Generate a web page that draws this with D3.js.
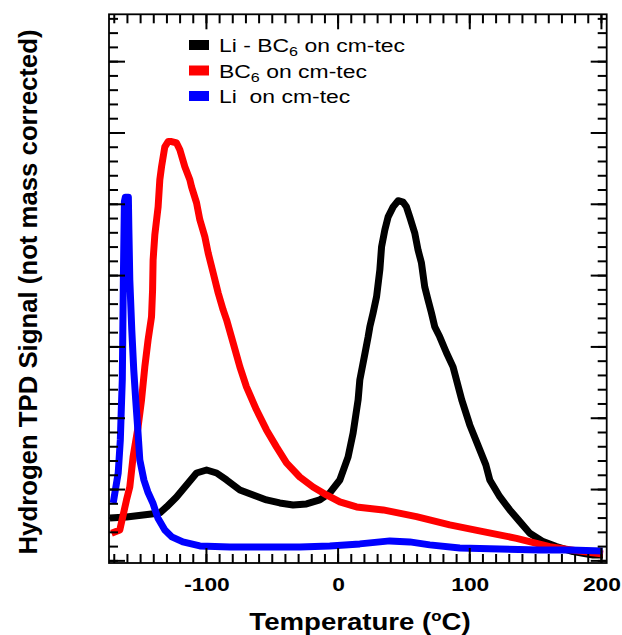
<!DOCTYPE html>
<html>
<head>
<meta charset="utf-8">
<script src="https://cdn.jsdelivr.net/npm/d3@7"></script>
<style>
  html, body { margin: 0; padding: 0; background: #fff; }
  svg { display: block; }
  text { font-family: "Liberation Sans", Arial, Helvetica, sans-serif; }
</style>
</head>
<body>
<svg id="chart" width="622" height="635"></svg>
<script>
// ---------------- data ----------------
// Li - BC6 on cm-tec (black)
const liBC6Temp = [-173.3,-160.7,-148.1,-135.4,-130.3,-122.7,-115.1,-107.5,-99.9,-92.3,-84.7,-74.6,-64.5,-54.4,-44.3,-34.2,-24.0,-13.9,-6.3,1.3,7.6,11.4,15.2,16.5,20.2,22.8,24.1,26.6,29.2,31.7,33.0,35.5,38.0,41.8,45.6,49.4,51.9,54.4,58.2,60.7,63.3,65.8,68.3,70.9,73.4,77.2,82.3,87.3,89.9,93.9,100.0,106.1,112.2,115.2,122.8,130.4,138.0,145.6,155.7,165.8,178.4,193.6,201.2];
const liBC6Signal = [3.01,3.08,3.22,3.36,3.78,4.48,5.32,6.16,6.37,6.16,5.67,4.97,4.62,4.27,4.06,3.92,3.99,4.27,4.76,5.67,7.29,8.97,11.29,12.69,14.45,15.70,16.41,17.39,18.51,20.40,22.01,23.21,24.12,24.82,25.25,25.15,24.82,24.12,22.99,21.80,20.89,19.21,18.30,17.39,16.41,15.71,14.59,13.60,12.69,11.29,9.53,8.13,6.73,5.67,4.50,3.57,2.75,1.94,1.35,1.00,0.65,0.41,0.41];

// BC6 on cm-tec (red)
const bc6Temp = [-172.1,-165.8,-160.7,-158.2,-155.7,-151.9,-149.3,-146.8,-144.3,-141.7,-140.9,-140.5,-139.2,-136.7,-135.4,-134.1,-131.6,-129.1,-126.5,-122.7,-120.2,-116.4,-112.6,-111.3,-107.5,-105.0,-101.2,-98.7,-94.9,-91.1,-87.3,-84.7,-79.7,-74.6,-69.6,-62.0,-54.4,-46.8,-39.2,-29.1,-19.0,-8.8,1.3,14.0,34.2,59.5,84.8,110.1,135.5,160.7,186.0,201.2];
const bc6Signal = [1.94,2.17,4.27,5.18,7.29,9.39,11.28,13.60,15.50,17.11,19.00,21.10,22.85,24.82,26.72,27.63,29.03,29.40,29.40,29.30,28.82,27.63,26.72,26.22,25.10,23.91,22.72,21.59,20.20,18.79,17.59,16.90,15.28,13.60,12.20,10.59,9.18,7.99,6.87,5.88,5.18,4.62,4.13,3.78,3.57,3.10,2.52,2.05,1.58,1.00,0.65,0.48];

// Li on cm-tec (blue)
const liTemp = [-170.8,-167.0,-165.4,-164.6,-163.9,-163.5,-163.1,-162.7,-162.3,-161.6,-159.3,-158.9,-158.2,-156.7,-155.2,-153.7,-152.1,-150.6,-147.5,-144.5,-140.7,-136.9,-131.6,-126.3,-117.9,-105.0,-82.2,-51.9,-29.1,-6.3,16.5,39.3,54.4,69.6,92.4,122.8,153.1,175.9,200.9];
const liSignal = [4.06,6.17,8.48,10.80,12.69,16.19,19.70,22.50,25.20,25.50,25.50,23.21,19.70,16.19,13.39,11.28,9.18,7.08,5.67,4.83,4.06,3.01,2.17,1.68,1.33,1.05,0.98,0.98,0.98,1.05,1.19,1.40,1.33,1.12,0.90,0.83,0.76,0.76,0.69];

const seriesNames = ["Li - BC|6| on cm-tec", "BC|6| on cm-tec", "Li  on cm-tec"];
const seriesColors = ["#000000", "#ff0000", "#0000ff"];

const xMajorTicks = [-100, 0, 100, 200];
const xTickLabels = ["-100", "0", "100", "200"];
const xMinorTicks = d3.range(-170, 201, 10);
const yMajorTicks = d3.range(0, 36, 5);
const yMinorTicks = d3.range(0, 39, 1);

const xTitle = "Temperature (";
const xTitleSup = "o";
const xTitleEnd = "C)";
const yTitle = "Hydrogen TPD Signal (not mass corrected)";

// ---------------- layout ----------------
const svg = d3.select("#chart");
const L = 109, R = 606.7, T = 14.3, B = 563;
const x = d3.scaleLinear().domain([-174, 204]).range([L, R]);
const y = d3.scaleLinear().domain([-0.15, 38.32]).range([B, T]);

const series = [
  { temp: liBC6Temp, sig: liBC6Signal },
  { temp: bc6Temp, sig: bc6Signal },
  { temp: liTemp, sig: liSignal }
];

svg.append("defs").append("clipPath").attr("id", "clip")
  .append("rect").attr("x", L).attr("y", T).attr("width", R - L).attr("height", B - T);

const line = d3.line().x(d => x(d[0])).y(d => y(d[1]));
const plot = svg.append("g").attr("clip-path", "url(#clip)");
series.forEach((s, i) => {
  plot.append("path")
    .datum(s.temp.map((t, k) => [t, s.sig[k]]))
    .attr("d", line)
    .attr("fill", "none")
    .attr("stroke", seriesColors[i])
    .attr("stroke-width", 7)
    .attr("stroke-linejoin", "round")
    .attr("stroke-linecap", "butt");
});

// ---------------- ticks (drawn from the scales) ----------------
const tickG = svg.append("g").attr("stroke", "#000").attr("stroke-width", 2);
function xTicks(values, len) {
  values.forEach(v => {
    tickG.append("line").attr("x1", x(v)).attr("x2", x(v)).attr("y1", B).attr("y2", B - len);
    tickG.append("line").attr("x1", x(v)).attr("x2", x(v)).attr("y1", T).attr("y2", T + len);
  });
}
function yTicks(values, len) {
  values.forEach(v => {
    tickG.append("line").attr("y1", y(v)).attr("y2", y(v)).attr("x1", L).attr("x2", L + len);
    tickG.append("line").attr("y1", y(v)).attr("y2", y(v)).attr("x1", R).attr("x2", R - len);
  });
}
xTicks(xMinorTicks, 9);
xTicks(xMajorTicks, 15);
yTicks(yMinorTicks, 9);
yTicks(yMajorTicks, 16);

// tick labels via d3 axis (no tick lines)
const xb = svg.append("g").attr("transform", `translate(0,${B})`)
  .call(d3.axisBottom(x).tickValues(xMajorTicks).tickSize(0).tickPadding(15)
        .tickFormat((d, i) => xTickLabels[i]));
xb.select(".domain").remove();
xb.selectAll("text")
  .attr("fill", "#000")
  .attr("font-size", 19)
  .attr("font-weight", "bold")
  .attr("font-family", "'Liberation Sans', Arial, sans-serif")
  .attr("transform", "scale(1.2,1)");

// frame
svg.append("rect").attr("x", L).attr("y", T).attr("width", R - L).attr("height", B - T)
  .attr("fill", "none").attr("stroke", "#000").attr("stroke-width", 1.8);

// ---------------- titles ----------------
const xt = svg.append("text")
  .attr("transform", "translate(360,630) scale(1.2,1)")
  .attr("text-anchor", "middle")
  .attr("font-size", 23).attr("font-weight", "bold").attr("fill", "#000");
xt.append("tspan").text(xTitle);
xt.append("tspan").attr("font-size", 14).attr("dy", -9).text(xTitleSup);
xt.append("tspan").attr("dy", 9).text(xTitleEnd);

svg.append("text")
  .attr("transform", "translate(37,292) rotate(-90)")
  .attr("text-anchor", "middle")
  .attr("font-size", 25).attr("font-weight", "bold").attr("fill", "#000")
  .attr("textLength", 525).attr("lengthAdjust", "spacingAndGlyphs")
  .text(yTitle);

// ---------------- legend ----------------
const leg = svg.append("g");
seriesNames.forEach((name, i) => {
  const by = 52 + i * 25.5;
  leg.append("rect").attr("x", 189).attr("y", by - 12).attr("width", 20).attr("height", 10)
    .attr("fill", seriesColors[i]);
  const t = leg.append("text")
    .attr("transform", `translate(219,${by}) scale(1.24,1)`)
    .attr("font-size", 18.5).attr("fill", "#000")
    .style("white-space", "pre");
  const parts = name.split("|");
  parts.forEach((p, k) => {
    const ts = t.append("tspan").text(p);
    if (k === 1) ts.attr("font-size", 13).attr("dy", 4);
    if (k === 2) ts.attr("dy", -4);
  });
});
</script>
</body>
</html>
